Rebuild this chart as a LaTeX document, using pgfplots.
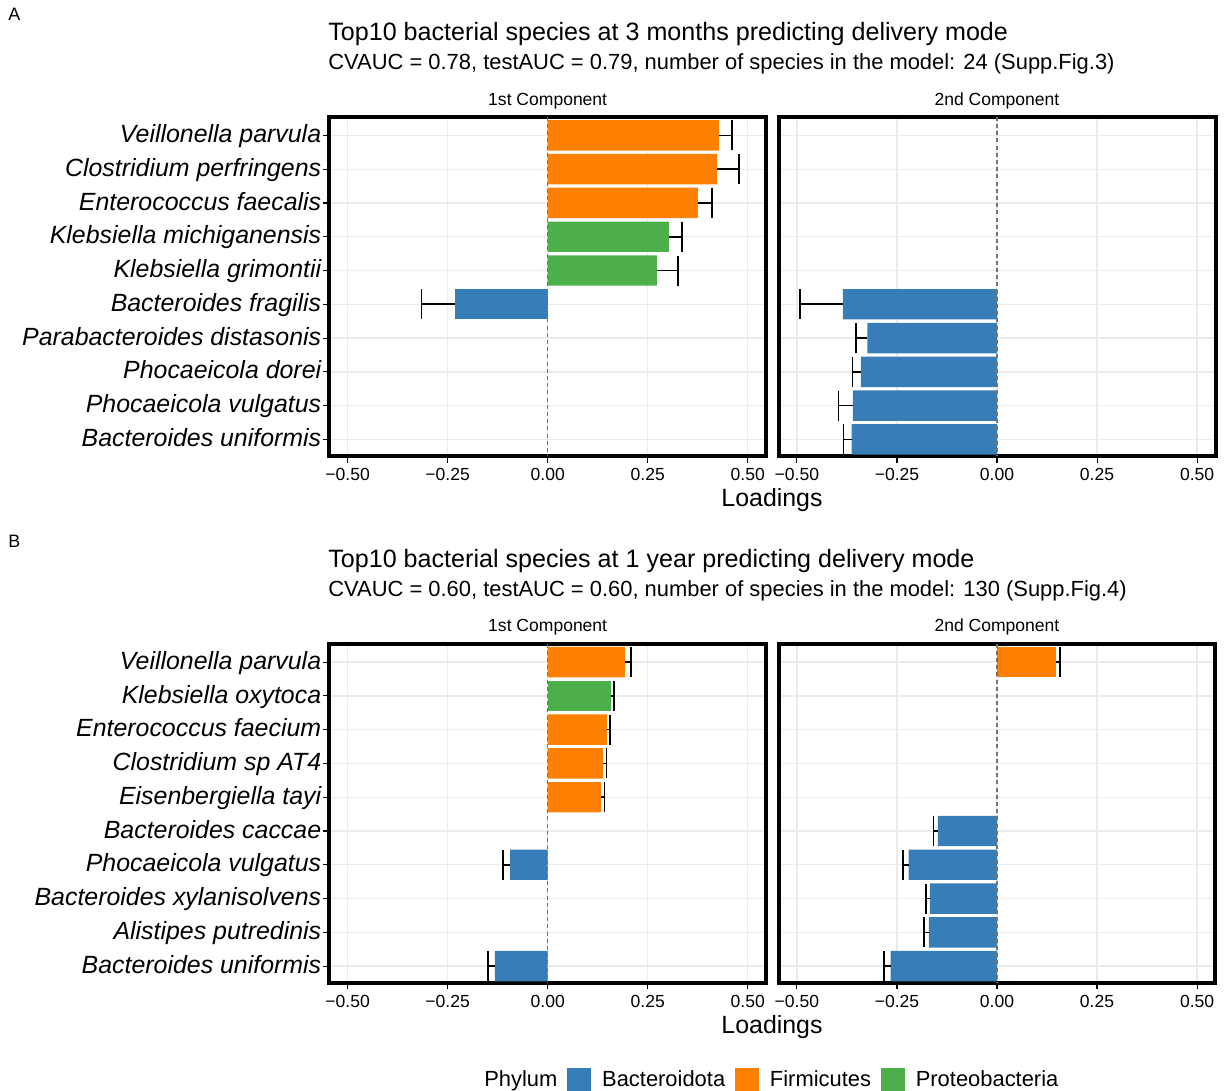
\documentclass[border=0pt]{standalone}
\usepackage{fontspec}
\setmainfont{Liberation Sans}
\usepackage{pgfplots}
\pgfplotsset{compat=1.18}
\definecolor{cBac}{HTML}{377EB8}
\definecolor{cFir}{HTML}{FF7F00}
\definecolor{cPro}{HTML}{4DAF4A}
\definecolor{gridc}{HTML}{EBEBEB}
\definecolor{zeroc}{HTML}{737373}
\pgfplotsset{
 panel/.style={
  scale only axis, width=218.5bp, height=169.75bp, anchor=north west,
  xmin=-0.546, xmax=0.546, ymin=0.45, ymax=10.5, y dir=reverse,
  xtick={-0.5,-0.25,0,0.25,0.5},
  xticklabels={−0.50,−0.25,0.00,0.25,0.50},
  ytick={1,...,10},
  grid=major, grid style={gridc, line width=0.65bp},
  axis line style={black, line width=2bp},
  tick align=outside, xtick pos=bottom, ytick pos=left,
  major tick length=3.2bp, tick style={black, line width=0.55bp},
  xticklabel style={font=\fontsize{8.8}{10}\selectfont, inner sep=1.8bp, text height=0.716em, text depth=0pt},
  yticklabel style={font=\fontsize{12.5}{14}\selectfont\itshape, inner sep=0.6bp, text height=0.716em, text depth=0pt},
  every axis title shift=0pt,
  title style={font=\fontsize{8.8}{10}\selectfont, at={(0.5,1)}, anchor=base, yshift=5.9bp, inner sep=0pt},
 },
 right panel/.style={yticklabels={}, ytick style={draw=none}},
 barplot/.style={xbar, bar width=0.9, bar shift=0pt, draw=none, fill=#1,
  error bars/x explicit,
  error bars/error mark=|,
  error bars/error bar style={black, line width=0.8bp},
  error bars/error mark options={black, mark size=7.5bp, line width=0.8bp}},
 zeroline/.style={zeroc, line width=0.8bp, dash pattern=on 2bp off 1.6bp},
 sq/.style={legend image code/.code={\fill[#1] (0bp,-5.75bp) rectangle (11.5bp,5.75bp); \path (15bp,0bp);}},
}
\begin{document}
\begin{tikzpicture}
\useasboundingbox (0,0) rectangle (612.5bp,-545.5bp);
% ---------- texts ----------
\node[anchor=base west, inner sep=0pt, font=\fontsize{9}{10}\selectfont] at (4bp,-10bp) {A};
\node[anchor=base west, inner sep=0pt, font=\fontsize{12.6}{15}\selectfont] at (164bp,-20.3bp) {Top10 bacterial species at 3 months predicting delivery mode};
\node[anchor=base west, inner sep=0pt, font=\fontsize{11}{13}\selectfont] at (164bp,-34.5bp) {CVAUC = 0.78, testAUC = 0.79, number of species in the model: 24 (Supp.Fig.3)};
\node[anchor=base, inner sep=0pt, font=\fontsize{12.5}{15}\selectfont] at (386bp,-253.3bp) {Loadings};
\node[anchor=base west, inner sep=0pt, font=\fontsize{9}{10}\selectfont] at (4bp,-273.5bp) {B};
\node[anchor=base west, inner sep=0pt, font=\fontsize{12.6}{15}\selectfont] at (164bp,-283.8bp) {Top10 bacterial species at 1 year predicting delivery mode};
\node[anchor=base west, inner sep=0pt, font=\fontsize{11}{13}\selectfont] at (164bp,-298bp) {CVAUC = 0.60, testAUC = 0.60, number of species in the model: 130 (Supp.Fig.4)};
\node[anchor=base, inner sep=0pt, font=\fontsize{12.5}{15}\selectfont] at (386bp,-516.8bp) {Loadings};

% ---------- A, 1st component ----------
\begin{axis}[panel, at={(164.6bp,-58.4bp)}, title={1st Component},
  yticklabels={Veillonella parvula,Clostridium perfringens,Enterococcus faecalis,Klebsiella michiganensis,Klebsiella grimontii,Bacteroides fragilis,Parabacteroides distasonis,Phocaeicola dorei,Phocaeicola vulgatus,Bacteroides uniformis}]
\addplot[barplot=cFir, error bars/x dir=plus] table[x=x, y=y, x error=e] {
y x e
1 0.428 0.032
2 0.423 0.055
3 0.375 0.035
};
\addplot[barplot=cPro, error bars/x dir=plus] table[x=x, y=y, x error=e] {
y x e
4 0.303 0.032
5 0.273 0.053
};
\addplot[barplot=cBac, error bars/x dir=minus] table[x=x, y=y, x error=e] {
y x e
6 -0.232 0.083
};
\addplot[zeroline] coordinates {(0,0.45) (0,10.5)};
\end{axis}

% ---------- A, 2nd component ----------
\begin{axis}[panel, right panel, at={(389.25bp,-58.4bp)}, title={2nd Component}]
\addplot[barplot=cBac, error bars/x dir=minus] table[x=x, y=y, x error=e] {
y x e
6 -0.385 0.108
7 -0.324 0.029
8 -0.340 0.021
9 -0.360 0.036
10 -0.363 0.021
};
\addplot[zeroline] coordinates {(0,0.45) (0,10.5)};
\end{axis}

% ---------- B, 1st component ----------
\begin{axis}[panel, at={(164.6bp,-321.75bp)}, title={1st Component},
  yticklabels={Veillonella parvula,Klebsiella oxytoca,Enterococcus faecium,Clostridium sp AT4,Eisenbergiella tayi,Bacteroides caccae,Phocaeicola vulgatus,Bacteroides xylanisolvens,Alistipes putredinis,Bacteroides uniformis}]
\addplot[barplot=cFir, error bars/x dir=plus] table[x=x, y=y, x error=e] {
y x e
1 0.193 0.015
3 0.148 0.007
4 0.138 0.009
5 0.133 0.009
};
\addplot[barplot=cPro, error bars/x dir=plus] table[x=x, y=y, x error=e] {
y x e
2 0.158 0.008
};
\addplot[barplot=cBac, error bars/x dir=minus] table[x=x, y=y, x error=e] {
y x e
7 -0.094 0.0175
10 -0.132 0.0175
};
\addplot[zeroline] coordinates {(0,0.45) (0,10.5)};
\end{axis}

% ---------- B, 2nd component ----------
\begin{axis}[panel, right panel, at={(389.25bp,-321.75bp)}, title={2nd Component},
  legend style={draw=none, fill=none, at={(-0.0164,-0.2861)}, anchor=center,
    legend columns=-1, font=\fontsize{11}{13}\selectfont,
    /tikz/every even column/.append style={column sep=3bp}},
  ]
\addplot[barplot=cFir, error bars/x dir=plus, forget plot] table[x=x, y=y, x error=e] {
y x e
1 0.148 0.010
};
\addplot[barplot=cBac, error bars/x dir=minus, forget plot] table[x=x, y=y, x error=e] {
y x e
6 -0.148 0.011
7 -0.221 0.014
8 -0.168 0.010
9 -0.170 0.0125
10 -0.266 0.017
};
\addplot[zeroline, forget plot] coordinates {(0,0.45) (0,10.5)};
\addlegendimage{empty legend}
\addlegendentry{Phylum}
\addlegendimage{sq=cBac}
\addlegendentry{Bacteroidota}
\addlegendimage{sq=cFir}
\addlegendentry{Firmicutes}
\addlegendimage{sq=cPro}
\addlegendentry{Proteobacteria}
\end{axis}
\end{tikzpicture}
\end{document}
